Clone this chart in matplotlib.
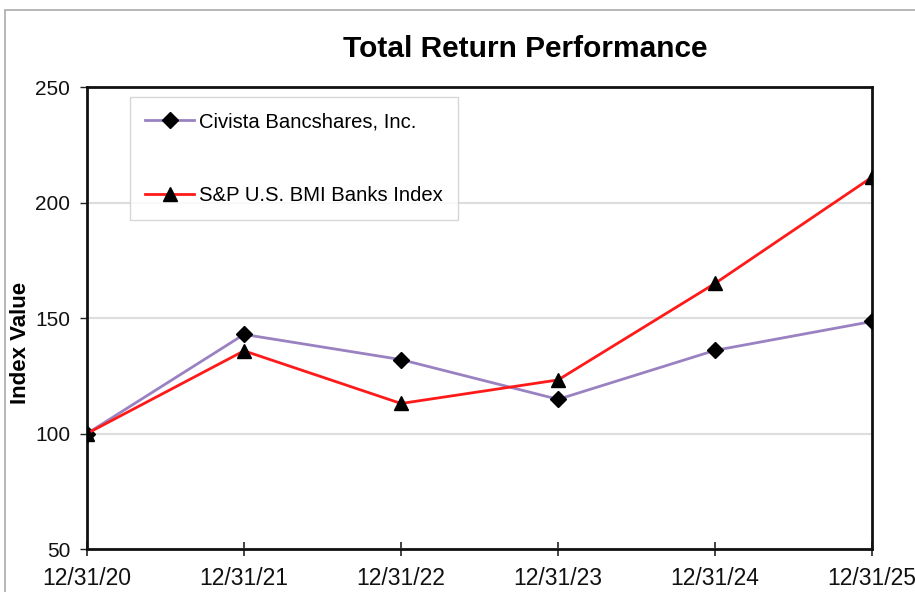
import matplotlib.pyplot as plt
from matplotlib.patches import Rectangle

plt.rcParams['font.family'] = ['Liberation Sans', 'DejaVu Sans']

# data
dates = ['12/31/20', '12/31/21', '12/31/22', '12/31/23', '12/31/24', '12/31/25']
civista = [100, 142.9, 132.0, 114.8, 136.0, 148.5]
sp_banks = [100, 135.8, 113.0, 123.2, 165.0, 211.0]

fig = plt.figure(figsize=(9.15, 5.92), dpi=100)
ax = fig.add_axes([0.0951, 0.0726, 0.858, 0.7804])

x = list(range(len(dates)))
ax.plot(x, civista, color='#9a82c2', lw=2, marker='D', ms=8,
        mfc='black', mec='black', label='Civista Bancshares, Inc.', zorder=3)
ax.plot(x, sp_banks, color='#ff1a1a', lw=2, marker='^', ms=10,
        mfc='black', mec='black', label='S&P U.S. BMI Banks Index', zorder=3)

ax.set_xlim(0, len(dates) - 1)
ax.set_ylim(50, 250)
ax.set_xticks(x)
ax.set_xticklabels(dates)
ax.set_yticks([50, 100, 150, 200, 250])
ax.tick_params(axis='x', direction='inout', length=10, width=1.2, labelsize=16.5, pad=8)
ax.tick_params(axis='y', direction='out', length=5, width=1, labelsize=15, pad=7)
ax.tick_params(colors='#222222')
ax.grid(axis='y', color='#dddddd', lw=1.5)
ax.set_axisbelow(True)
for s in ax.spines.values():
    s.set_linewidth(2)
    s.set_color('#111111')
for lab in ax.get_xticklabels() + ax.get_yticklabels():
    lab.set_color('#111111')

ax.set_ylabel('Index Value', fontsize=16, fontweight='bold')
ax.yaxis.set_label_coords(-0.071, 0.446)
fig.text(0.574, 0.918, 'Total Return Performance', ha='center', va='center',
         fontsize=21.5, fontweight='bold')

leg = ax.legend(loc='upper left', bbox_to_anchor=(0.055, 0.719, 0.418, 0.259),
                mode='expand', fontsize=14.6, frameon=True, fancybox=False,
                edgecolor='#cccccc', handlelength=2.4, labelspacing=2.7,
                borderpad=0.75, handletextpad=0.25, borderaxespad=0)
leg.get_frame().set_linewidth(1)

# outer light frame of the original image
fig.patches.append(Rectangle((5 / 915, -0.1), 2, (592 - 10) / 592 + 0.1,
                             transform=fig.transFigure, fill=False,
                             edgecolor='#aaaaaa', lw=1.2))

fig.savefig('out.png', dpi=100)
